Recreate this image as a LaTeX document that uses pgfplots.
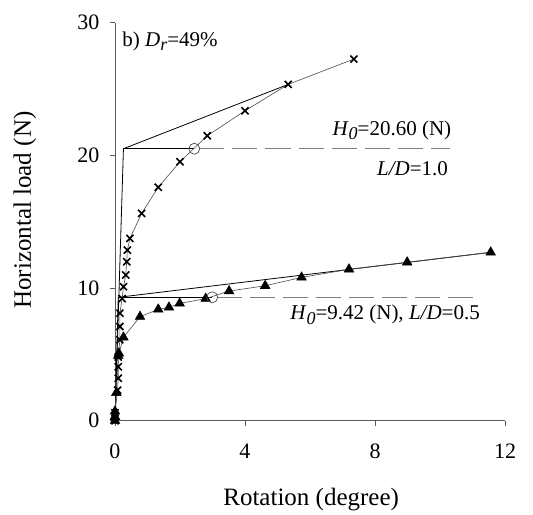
\documentclass[border=0pt]{standalone}
\usepackage{fontspec}
\setmainfont{Liberation Serif}
\usepackage{pgfplots}
\pgfplotsset{compat=1.18}
\newcommand\sub[1]{\raisebox{-0.45ex}{\fontsize{18}{18}\selectfont\textit{#1}}}
\begin{document}
\begin{tikzpicture}
\begin{axis}[name=ax, scale only axis, width=390pt, height=398pt,
  xmin=0, xmax=12, ymin=0, ymax=30,
  axis x line=bottom, axis y line=left,
  axis line style={-, gray!70!black, line width=0.8pt},
  xtick={0,4,8,12}, ytick={0,10,20,30},
  tick align=outside, major tick length=5pt,
  every tick/.style={gray!70!black, line width=0.8pt},
  /pgf/number format/assume math mode=true,
  tick label style={font=\fontsize{22}{22}\selectfont},
  xticklabel style={yshift=-15pt},
  yticklabel style={xshift=-7pt},
  xlabel={Rotation (degree)}, ylabel={Horizontal load (N)},
  label style={font=\fontsize{25}{25}\selectfont},
  xlabel style={at={(axis description cs:0.503,-0.199)}, anchor=center},
  ylabel style={at={(axis description cs:-0.231,0.529)}, anchor=center},
  clip=false]
% bilinear fits
\addplot[black, line width=0.8pt] coordinates {(0,0) (0.26,20.5) (5.33,25.35)};
\addplot[black, line width=0.8pt] coordinates {(0.26,20.5) (2.44,20.5)};
\addplot[gray, line width=0.9pt, dash pattern=on 25pt off 8pt] coordinates {(2.6,20.5) (10.3,20.5)};
\addplot[black, line width=0.8pt] coordinates {(0,0) (0.1,9.3) (11.56,12.69)};
\addplot[black, line width=0.8pt] coordinates {(0.1,9.3) (2.99,9.3)};
\addplot[gray, line width=0.9pt, dash pattern=on 25pt off 8pt] coordinates {(3.15,9.3) (11.23,9.3)};
% L/D = 1.0
\addplot[gray!60!black, line width=0.6pt, mark=x, mark size=5pt, mark options={black, solid, line width=1.6pt}] coordinates {
(0,0) (0,0.3) (0,0.6) (0.08,2.3) (0.1,3.2) (0.1,4.07) (0.1,4.8) (0.15,6.1) (0.15,7.1) (0.15,8.1)
(0.22,9.2) (0.26,10.1) (0.33,10.98) (0.36,11.98) (0.38,12.86) (0.46,13.74) (0.82,15.63)
(1.33,17.59) (2.0,19.52) (2.84,21.48) (4.0,23.36) (5.33,25.35) (7.35,27.26)};
% L/D = 0.5
\addplot[gray!60!black, line width=0.6pt, mark=triangle*, mark size=5.5pt, mark options={black, solid}] coordinates {
(0,0) (0,0.3) (0,0.7) (0.04,2.1) (0.1,4.9) (0.12,5.08) (0.26,6.28) (0.77,7.84) (1.33,8.39)
(1.66,8.54) (1.99,8.84) (2.79,9.2) (3.51,9.77) (4.62,10.17) (5.74,10.8) (7.2,11.41)
(8.99,11.94) (11.56,12.69)};
% circles
\addplot[only marks, mark=o, mark size=5.5pt, mark options={gray!60!black, line width=0.7pt}] coordinates {(2.44,20.5) (2.99,9.3)};
% texts
\node[anchor=west, font=\fontsize{21}{21}\selectfont, inner sep=0pt] at (axis cs:0.22,28.6) {b) \textit{D}\sub{r}=49\%};
\node[anchor=east, font=\fontsize{21}{21}\selectfont, inner sep=0pt] at (axis cs:10.35,21.9) {\textit{H}\sub{0}=20.60 (N)};
\node[anchor=east, font=\fontsize{21}{21}\selectfont, inner sep=0pt] at (axis cs:10.25,19.0) {\textit{L/D}=1.0};
\node[anchor=east, font=\fontsize{21}{21}\selectfont, inner sep=0pt] at (axis cs:11.23,7.97) {\textit{H}\sub{0}=9.42 (N), \textit{L/D}=0.5};
\end{axis}
\path (ax.south west) ++(-115pt,-92.3pt) rectangle ++(533pt,513pt);
\end{tikzpicture}
\end{document}
